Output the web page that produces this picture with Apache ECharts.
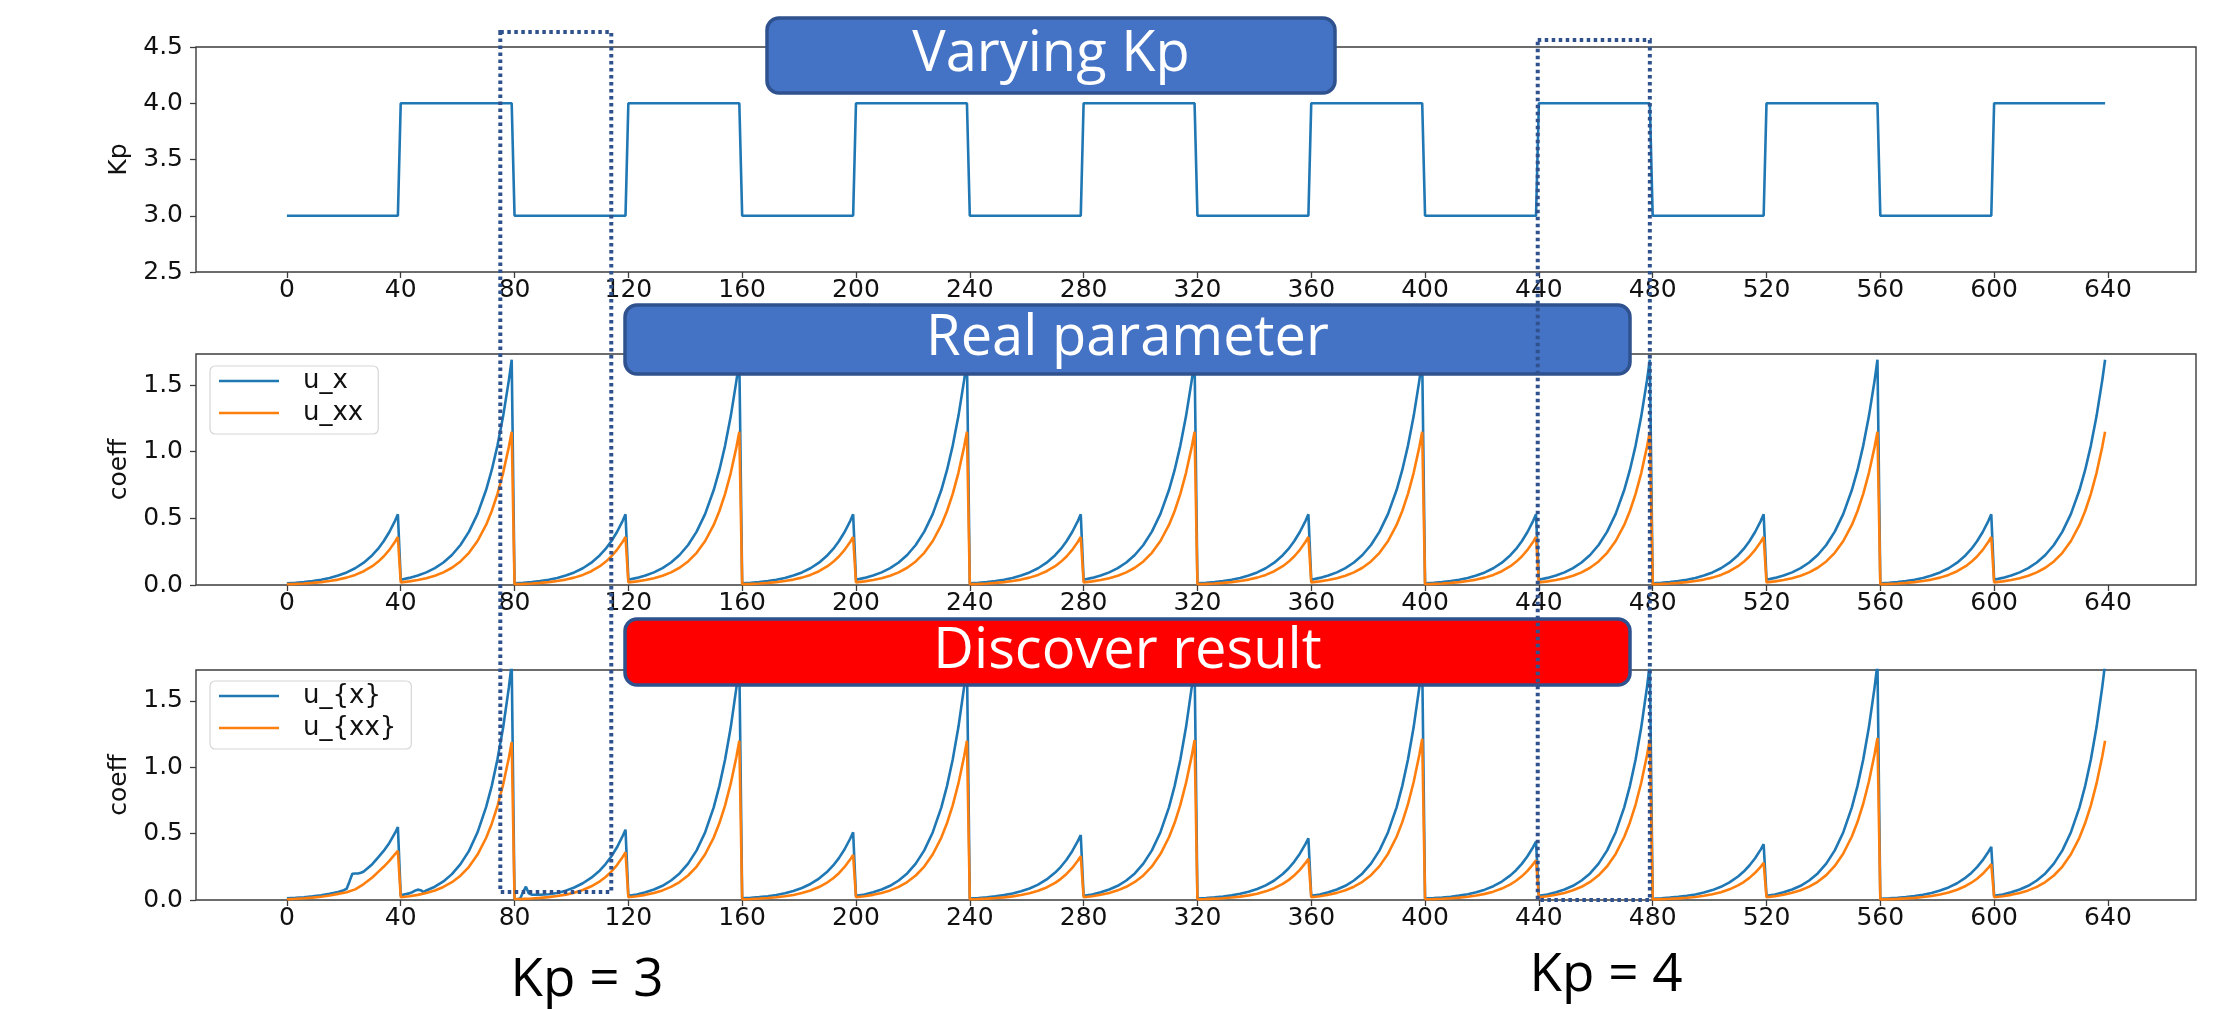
<!DOCTYPE html>
<html>
<head>
<meta charset="utf-8">
<script src="https://cdn.jsdelivr.net/npm/echarts@6/dist/echarts.min.js"></script>
<style>
  html, body { margin: 0; padding: 0; background: #fff; }
  #chart { width: 2227px; height: 1009px; }
</style>
</head>
<body>
<div id="chart"></div>
<script>
// ---------- data ----------
// x ticks shared by the three panels
const xTicks = [0, 40, 80, 120, 160, 200, 240, 280, 320, 360, 400, 440, 480, 520, 560, 600, 640];

// Kp schedule (break points of the square wave)
const kpTime = [0, 39, 40, 79, 80, 119, 120, 159, 160, 199, 200, 239, 240, 279, 280, 319,
  320, 359, 360, 399, 400, 439, 440, 479, 480, 519, 520, 559, 560, 599, 600, 639];
const kpValue = [3, 3, 4, 4, 3, 3, 4, 4, 3, 3, 4, 4, 3, 3, 4, 4,
  3, 3, 4, 4, 3, 3, 4, 4, 3, 3, 4, 4, 3, 3, 4, 4];

// sample offsets inside each 40-step block
const blockOffsets = [0, 3, 6, 9, 12, 15, 18, 21, 24, 27, 30, 32, 34, 36, 38, 39];

// real parameter, one profile for Kp=3 blocks and one for Kp=4 blocks
const realUxLow = [0.0125, 0.0167, 0.0223, 0.0297, 0.0397, 0.0529, 0.0706, 0.0941, 0.1256, 0.1675, 0.2234, 0.2707, 0.328, 0.3974, 0.4815, 0.53];
const realUxHigh = [0.04, 0.0533, 0.0711, 0.0949, 0.1265, 0.1688, 0.2251, 0.3001, 0.4004, 0.534, 0.7123, 0.8631, 1.0458, 1.2672, 1.5354, 1.69];
const realUxxLow = [0.0062, 0.0085, 0.0116, 0.0159, 0.0217, 0.0297, 0.0405, 0.0554, 0.0756, 0.1034, 0.1412, 0.1738, 0.214, 0.2635, 0.3244, 0.36];
const realUxxHigh = [0.0199, 0.0272, 0.0372, 0.0508, 0.0694, 0.0948, 0.1295, 0.1769, 0.2416, 0.3302, 0.451, 0.5553, 0.6837, 0.8418, 1.0364, 1.15];

// discovered result, block by block
const foundUx = [
  [0.012, 0.016, 0.021, 0.028, 0.036, 0.046, 0.06, 0.085, 0.2, 0.215, 0.27, 0.32, 0.37, 0.43, 0.505, 0.55],
  [0.035, 0.05, 0.078, 0.072, 0.1, 0.14, 0.195, 0.27, 0.37, 0.51, 0.7, 0.86, 1.06, 1.3, 1.6, 1.78],
  [0.005, 0.06, 0.04, 0.04, 0.043, 0.053, 0.0706, 0.094, 0.126, 0.168, 0.223, 0.271, 0.328, 0.397, 0.482, 0.53],
  [0.031, 0.042, 0.058, 0.079, 0.107, 0.147, 0.2, 0.274, 0.374, 0.511, 0.698, 0.86, 1.058, 1.303, 1.604, 1.78],
  [0.0121, 0.0161, 0.0215, 0.0286, 0.0382, 0.0509, 0.0679, 0.0906, 0.1208, 0.1612, 0.215, 0.2605, 0.3156, 0.3824, 0.4633, 0.51],
  [0.031, 0.042, 0.058, 0.079, 0.107, 0.147, 0.2, 0.274, 0.374, 0.511, 0.698, 0.86, 1.058, 1.303, 1.604, 1.78],
  [0.0116, 0.0155, 0.0206, 0.0275, 0.0367, 0.0489, 0.0653, 0.087, 0.1161, 0.1548, 0.2065, 0.2502, 0.3032, 0.3674, 0.4452, 0.49],
  [0.031, 0.042, 0.058, 0.079, 0.107, 0.147, 0.2, 0.274, 0.374, 0.511, 0.698, 0.86, 1.058, 1.303, 1.604, 1.78],
  [0.011, 0.0147, 0.0196, 0.0261, 0.0348, 0.0464, 0.0619, 0.0826, 0.1102, 0.1469, 0.196, 0.2375, 0.2877, 0.3487, 0.4225, 0.465],
  [0.031, 0.042, 0.058, 0.079, 0.107, 0.147, 0.2, 0.274, 0.374, 0.511, 0.698, 0.86, 1.058, 1.303, 1.604, 1.78],
  [0.0104, 0.0139, 0.0185, 0.0247, 0.0329, 0.0439, 0.0586, 0.0781, 0.1042, 0.139, 0.1855, 0.2247, 0.2723, 0.3299, 0.3997, 0.44],
  [0.031, 0.042, 0.058, 0.079, 0.107, 0.147, 0.2, 0.274, 0.374, 0.511, 0.698, 0.86, 1.058, 1.303, 1.604, 1.78],
  [0.0099, 0.0133, 0.0177, 0.0236, 0.0314, 0.0419, 0.0559, 0.0746, 0.0995, 0.1327, 0.177, 0.2145, 0.2599, 0.3149, 0.3816, 0.42],
  [0.031, 0.042, 0.058, 0.079, 0.107, 0.147, 0.2, 0.274, 0.374, 0.511, 0.698, 0.86, 1.058, 1.303, 1.604, 1.78],
  [0.0095, 0.0126, 0.0168, 0.0225, 0.0299, 0.0399, 0.0533, 0.071, 0.0948, 0.1264, 0.1686, 0.2043, 0.2475, 0.2999, 0.3634, 0.4],
  [0.031, 0.042, 0.058, 0.079, 0.107, 0.147, 0.2, 0.274, 0.374, 0.511, 0.698, 0.86, 1.058, 1.303, 1.604, 1.78]
];
// extra points where the discovered u_{x} wiggles
const foundUxExtra = [[20, 0.074], [22, 0.14], [23, 0.198], [25, 0.2], [26, 0.205],
  [44, 0.058], [45, 0.07], [47, 0.074], [48, 0.06],
  [81, 0.005], [82, 0.012], [84, 0.1], [85, 0.05]];

const foundUxx = [
  [0.006, 0.009, 0.013, 0.018, 0.025, 0.034, 0.046, 0.058, 0.08, 0.12, 0.17, 0.21, 0.25, 0.295, 0.345, 0.37],
  [0.0206, 0.0282, 0.0385, 0.0526, 0.0718, 0.0981, 0.134, 0.183, 0.25, 0.342, 0.467, 0.575, 0.707, 0.871, 1.072, 1.19],
  [0.0062, 0.0085, 0.0116, 0.0159, 0.0217, 0.0297, 0.0405, 0.0554, 0.0756, 0.1034, 0.1412, 0.1738, 0.214, 0.2635, 0.3244, 0.36],
  [0.0208, 0.0284, 0.0388, 0.053, 0.0724, 0.0989, 0.1351, 0.1846, 0.2521, 0.3445, 0.4706, 0.5795, 0.7134, 0.8784, 1.0814, 1.2],
  [0.0059, 0.008, 0.011, 0.015, 0.0205, 0.028, 0.0383, 0.0523, 0.0714, 0.0976, 0.1333, 0.1642, 0.2021, 0.2489, 0.3064, 0.34],
  [0.0208, 0.0284, 0.0388, 0.053, 0.0724, 0.0989, 0.1351, 0.1846, 0.2521, 0.3445, 0.4706, 0.5795, 0.7134, 0.8784, 1.0814, 1.2],
  [0.0057, 0.0078, 0.0107, 0.0146, 0.0199, 0.0272, 0.0372, 0.0508, 0.0693, 0.0947, 0.1294, 0.1594, 0.1962, 0.2416, 0.2974, 0.33],
  [0.0209, 0.0285, 0.039, 0.0532, 0.0727, 0.0993, 0.1357, 0.1853, 0.2532, 0.346, 0.4726, 0.5819, 0.7163, 0.8821, 1.0859, 1.205],
  [0.0054, 0.0073, 0.01, 0.0137, 0.0187, 0.0256, 0.0349, 0.0477, 0.0651, 0.089, 0.1216, 0.1497, 0.1843, 0.2269, 0.2794, 0.31],
  [0.021, 0.0287, 0.0393, 0.0537, 0.0733, 0.1001, 0.1368, 0.1869, 0.2553, 0.3488, 0.4765, 0.5867, 0.7223, 0.8894, 1.095, 1.215],
  [0.0052, 0.0071, 0.0097, 0.0132, 0.0181, 0.0247, 0.0338, 0.0461, 0.063, 0.0861, 0.1177, 0.1449, 0.1784, 0.2196, 0.2704, 0.3],
  [0.021, 0.0286, 0.0391, 0.0534, 0.073, 0.0997, 0.1362, 0.1861, 0.2542, 0.3474, 0.4746, 0.5843, 0.7193, 0.8857, 1.0905, 1.21],
  [0.0048, 0.0066, 0.0091, 0.0124, 0.0169, 0.0231, 0.0315, 0.0431, 0.0588, 0.0804, 0.1098, 0.1352, 0.1665, 0.205, 0.2523, 0.28],
  [0.0211, 0.0289, 0.0394, 0.0539, 0.0736, 0.1006, 0.1374, 0.1876, 0.2563, 0.3503, 0.4785, 0.5891, 0.7253, 0.893, 1.0995, 1.22],
  [0.0047, 0.0064, 0.0087, 0.0119, 0.0163, 0.0223, 0.0304, 0.0415, 0.0567, 0.0775, 0.1059, 0.1304, 0.1605, 0.1976, 0.2433, 0.27],
  [0.0208, 0.0284, 0.0388, 0.053, 0.0724, 0.0989, 0.1351, 0.1846, 0.2521, 0.3445, 0.4706, 0.5795, 0.7134, 0.8784, 1.0814, 1.2]
];

// dotted highlight windows: x range and vertical reach (top panel value / bottom panel value)
const windowX0 = [75, 439.6];
const windowX1 = [114, 479];
const windowTopKp = [4.633, 4.562];
const windowBottomCoeff = [0.06, 0];

// ---------- helpers ----------
const BLUE = '#1f77b4', ORANGE = '#ff7f0e', FRAME = '#3c3c3c';
const LABEL_FONT = 'DejaVu Sans';
const NOTE_FONT = '"Open Sans"';

// place block profiles on the time axis (block b starts at 40*b)
function blocksToPoints(blocks, extra) {
  let pts = [];
  blocks.forEach((vals, b) => {
    vals.forEach((v, i) => pts.push([b * 40 + blockOffsets[i], v]));
  });
  if (extra) pts = pts.concat(extra);
  pts.sort((a, b) => a[0] - b[0]);
  return pts;
}

// real parameter blocks follow Kp: low profile when Kp=3, high profile when Kp=4
const realUxBlocks = [], realUxxBlocks = [];
for (let b = 0; b < 16; b++) {
  const high = kpValue[b * 2] === 4;
  realUxBlocks.push(high ? realUxHigh : realUxLow);
  realUxxBlocks.push(high ? realUxxHigh : realUxxLow);
}

const grids = [
  { left: 196, top: 47, width: 2000, height: 225 },
  { left: 196, top: 354, width: 2000, height: 231 },
  { left: 196, top: 670, width: 2000, height: 230 }
].map(g => Object.assign({ show: true, borderColor: FRAME, borderWidth: 1.4, backgroundColor: 'transparent' }, g));

function makeX(i) {
  return {
    gridIndex: i, type: 'value', min: -31.95, max: 670.95,
    axisLine: { show: false, onZero: false },
    axisTick: { show: true, length: 6, customValues: xTicks, lineStyle: { color: FRAME, width: 1.3 } },
    axisLabel: { customValues: xTicks, fontSize: 25, fontFamily: LABEL_FONT, color: '#111', margin: 6 },
    splitLine: { show: false }
  };
}

function makeY(i, min, max, ticks, name) {
  return {
    gridIndex: i, type: 'value', min: min, max: max,
    name: name, nameLocation: 'middle', nameGap: 63,
    nameTextStyle: { fontSize: 25, fontFamily: LABEL_FONT, color: '#111' },
    axisLine: { show: false, onZero: false },
    axisTick: { show: true, length: 6, customValues: ticks, lineStyle: { color: FRAME, width: 1.3 } },
    axisLabel: {
      customValues: ticks, fontSize: 25, fontFamily: LABEL_FONT, color: '#111', margin: 13,
      formatter: v => Number(v).toFixed(1)
    },
    splitLine: { show: false }
  };
}

function lineSeries(name, idx, data, color) {
  return {
    name: name, type: 'line', xAxisIndex: idx, yAxisIndex: idx,
    data: data, symbol: 'none', showSymbol: false, clip: true,
    lineStyle: { color: color, width: 2.6 }, itemStyle: { color: color },
    emphasis: { disabled: true }
  };
}

function makeLegend(names, top) {
  return {
    data: names, orient: 'vertical', left: 210, top: top,
    icon: 'rect', itemWidth: 60, itemHeight: 2.6, itemGap: 6,
    padding: [2, 15, 8, 9],
    borderColor: '#d6d6d6', borderWidth: 1.2, borderRadius: 5,
    backgroundColor: 'rgba(255,255,255,0.8)',
    textStyle: { fontSize: 26, lineHeight: 26, fontFamily: LABEL_FONT, color: '#111', padding: [0, 0, 0, 19] },
    selectedMode: false
  };
}

const coeffTicks = [0, 0.5, 1.0, 1.5];

const chart = echarts.init(document.getElementById('chart'), null, { renderer: 'canvas' });
chart.setOption({
  animation: false,
  backgroundColor: '#fff',
  grid: grids,
  xAxis: [makeX(0), makeX(1), makeX(2)],
  yAxis: [
    makeY(0, 2.5, 4.5, [2.5, 3.0, 3.5, 4.0, 4.5], 'Kp'),
    makeY(1, 0, 1.733, coeffTicks, 'coeff'),
    makeY(2, 0, 1.733, coeffTicks, 'coeff')
  ],
  legend: [makeLegend(['u_x', 'u_xx'], 366), makeLegend(['u_{x}', 'u_{xx}'], 681)],
  series: [
    lineSeries('Kp', 0, kpTime.map((t, i) => [t, kpValue[i]]), BLUE),
    lineSeries('u_x', 1, blocksToPoints(realUxBlocks), BLUE),
    lineSeries('u_xx', 1, blocksToPoints(realUxxBlocks), ORANGE),
    lineSeries('u_{x}', 2, blocksToPoints(foundUx, foundUxExtra), BLUE),
    lineSeries('u_{xx}', 2, blocksToPoints(foundUxx), ORANGE)
  ]
});

// ---------- annotation overlay ----------
function banner(x, y, w, h, text, fill) {
  return [{
    type: 'rect', z: 100,
    shape: { x: x, y: y, width: w, height: h, r: 12 },
    style: { fill: fill, stroke: '#2f528f', lineWidth: 3.5 }
  }, {
    type: 'text', z: 101, x: x + w / 2, y: y + h / 2,
    style: { text: text, fill: '#fff', font: '56px ' + NOTE_FONT, align: 'center', verticalAlign: 'middle' }
  }];
}

const px = v => chart.convertToPixel({ xAxisIndex: 0 }, v);
const pyTop = v => chart.convertToPixel({ yAxisIndex: 0 }, v);
const pyBottom = v => chart.convertToPixel({ yAxisIndex: 2 }, v);

let overlay = [].concat(
  banner(767, 18, 568, 75, 'Varying Kp', '#4472c4'),
  banner(625, 305, 1005, 69, 'Real parameter', '#4472c4'),
  banner(625, 619, 1005, 66, 'Discover result', '#ff0000')
);
windowX0.forEach((x0, i) => {
  const left = px(x0), right = px(windowX1[i]);
  const top = pyTop(windowTopKp[i]), bottom = pyBottom(windowBottomCoeff[i]);
  overlay.push({
    type: 'rect', z: 110,
    shape: { x: left, y: top, width: right - left, height: bottom - top },
    style: { fill: 'none', stroke: '#2f528f', lineWidth: 4, lineDash: [3.5, 3.5] }
  });
});
overlay.push({
  type: 'text', z: 100, x: 587, y: 981,
  style: { text: 'Kp = 3', font: '53px ' + NOTE_FONT, fill: '#000', align: 'center', verticalAlign: 'middle' }
});
overlay.push({
  type: 'text', z: 100, x: 1606, y: 976,
  style: { text: 'Kp = 4', font: '53px ' + NOTE_FONT, fill: '#000', align: 'center', verticalAlign: 'middle' }
});

chart.setOption({ graphic: { elements: overlay } });
</script>
</body>
</html>
